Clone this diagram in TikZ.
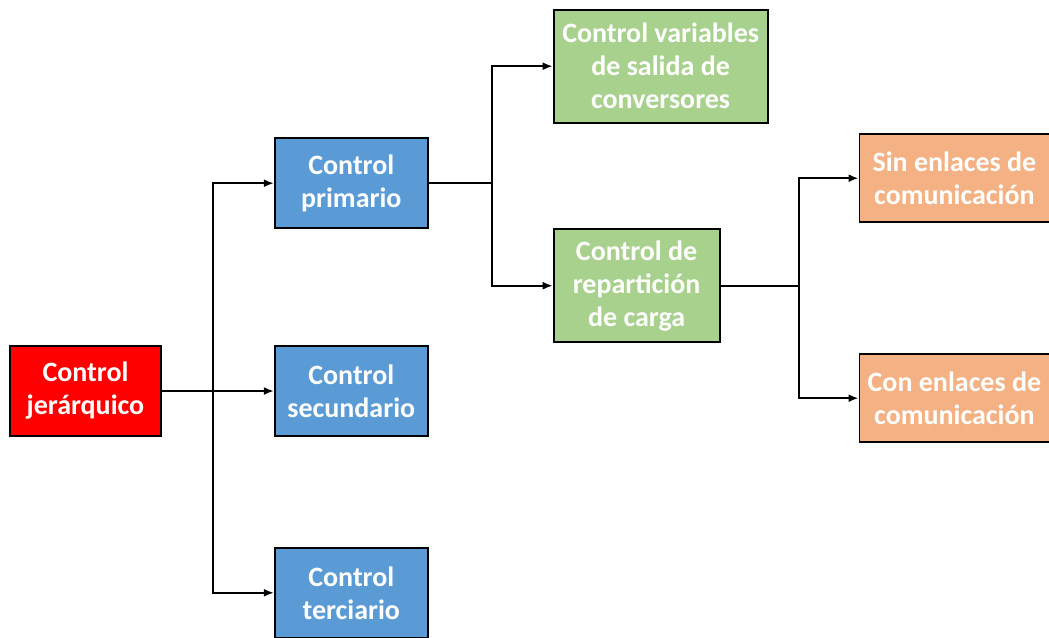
\documentclass[tikz,border=0pt]{standalone}
\usepackage{fontspec}
\setmainfont{Carlito}
\usepackage{tikz}
\usetikzlibrary{positioning,arrows.meta}

\definecolor{jerred}{HTML}{FF0000}
\definecolor{ctrlblue}{HTML}{5B9BD5}
\definecolor{ctrlgreen}{HTML}{A9D18E}
\definecolor{ctrlorange}{HTML}{F4B183}

\tikzset{
	box/.style={shape=rectangle,draw=black,line width=1.8pt,text=white,
		font=\bfseries\fontsize{28}{33}\selectfont,align=center,inner sep=0pt},
	level0/.style={box,fill=jerred,minimum width=151pt,minimum height=90pt},
	level1/.style={box,fill=ctrlblue,minimum width=153pt,minimum height=90pt},
	level2/.style={box,fill=ctrlgreen,minimum height=113pt},
	level3/.style={box,fill=ctrlorange,minimum width=190pt,minimum height=88pt},
	link/.style={line width=2pt,>={Latex[length=10pt,width=8pt]}}
}

\begin{document}
\begin{tikzpicture}[x=1pt,y=1pt]
	\useasboundingbox (0,0) rectangle (1049,-637);
	\begin{scope}
		\node(jer) [level0] at (85.5,-391) {Control\\jerárquico};
		\node(sec) [right=112pt of jer,level1] {Control\\secundario};
		\node(prim) [above=116pt of sec,level1] {Control\\primario};
		\node(ter) [below=110pt of sec,level1] {Control\\terciario};
		\node(var) [right=124pt of prim,yshift=117pt,level2,minimum width=214pt] {Control variables\\de salida de\\conversores};
		\node(rep) [right=124pt of prim,yshift=-102.5pt,level2,minimum width=166pt] {Control de\\repartición\\de carga};
		\node(sin) [right=138pt of rep,yshift=107.5pt,level3] {Sin enlaces de\\comunicación};
		\node(con) [right=138pt of rep,yshift=-112.5pt,level3] {Con enlaces de\\comunicación};
		\coordinate(j1) at ([xshift=51pt]jer.east);
		\coordinate(j2) at ([xshift=63pt]prim.east);
		\coordinate(j3) at ([xshift=78pt]rep.east);
		\draw[link,->] (jer.east) -- (sec.west);
		\draw[link,->] (j1) |- (prim.west);
		\draw[link,->] (j1) |- (ter.west);
		\draw[link] (prim.east) -- (j2);
		\draw[link,->] (j2) |- (var.west);
		\draw[link,->] (j2) |- (rep.west);
		\draw[link] (rep.east) -- (j3);
		\draw[link,->] (j3) |- (sin.west);
		\draw[link,->] (j3) |- (con.west);
	\end{scope}
\end{tikzpicture}
\end{document}
